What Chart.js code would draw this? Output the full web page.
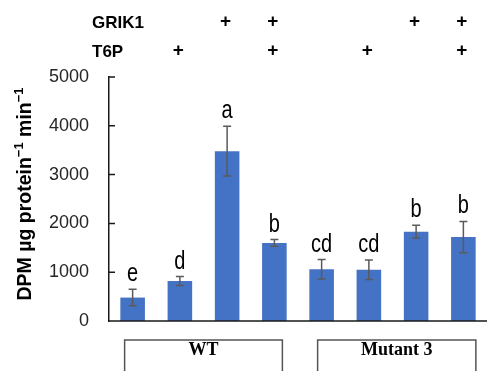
<!DOCTYPE html>
<html>
<head>
<meta charset="utf-8">
<script src="https://cdn.jsdelivr.net/npm/chart.js@4.4.0/dist/chart.umd.min.js"></script>
<style>
  html, body { margin: 0; padding: 0; background: #fff; }
</style>
</head>
<body>
<canvas id="chart" width="487" height="371"></canvas>
<script>
// data
const samples = ['WT', 'WT T6P', 'WT GRIK1', 'WT GRIK1 T6P', 'M3', 'M3 T6P', 'M3 GRIK1', 'M3 GRIK1 T6P'];
const dpm = [480, 820, 3480, 1600, 1060, 1050, 1830, 1720];
const dpmErr = [170, 90, 510, 70, 200, 200, 130, 320];
const letters = ['e', 'd', 'a', 'b', 'cd', 'cd', 'b', 'b'];
const grik1 = [false, false, true, true, false, false, true, true];
const t6p = [false, true, false, true, false, true, false, true];
const groups = [
  { name: 'WT', from: 0, to: 3 },
  { name: 'Mutant 3', from: 4, to: 7 }
];
const yTicks = [0, 1000, 2000, 3000, 4000, 5000];

const sans = '"Liberation Sans", Arial, sans-serif';
const serif = '"Liberation Serif", "Times New Roman", serif';

// error bars, letters, +/- rows, group boxes, axis title
const overlay = {
  id: 'overlay',
  afterDraw(chart) {
    const { ctx, chartArea, scales: { x, y } } = chart;
    const bars = chart.getDatasetMeta(0).data;
    ctx.save();

    // x axis line + inward ticks on y
    ctx.strokeStyle = '#1a1a1a';
    ctx.lineWidth = 1.5;
    ctx.beginPath();
    ctx.moveTo(chartArea.left, chartArea.bottom);
    ctx.lineTo(chartArea.right, chartArea.bottom);
    yTicks.forEach(v => {
      const py = y.getPixelForValue(v);
      ctx.moveTo(chartArea.left, py);
      ctx.lineTo(chartArea.left + 6, py);
    });
    ctx.stroke();

    // error bars
    ctx.strokeStyle = '#5a5a5a';
    ctx.lineWidth = 1.5;
    bars.forEach((bar, i) => {
      const hi = y.getPixelForValue(dpm[i] + dpmErr[i]);
      const lo = y.getPixelForValue(dpm[i] - dpmErr[i]);
      ctx.beginPath();
      ctx.moveTo(bar.x, hi); ctx.lineTo(bar.x, lo);
      ctx.moveTo(bar.x - 4, hi); ctx.lineTo(bar.x + 4, hi);
      ctx.moveTo(bar.x - 4, lo); ctx.lineTo(bar.x + 4, lo);
      ctx.stroke();
    });

    // significance letters (the original text is stretched vertically)
    ctx.fillStyle = '#000';
    ctx.font = '20px ' + sans;
    ctx.textAlign = 'center';
    ctx.textBaseline = 'alphabetic';
    bars.forEach((bar, i) => {
      const hi = y.getPixelForValue(dpm[i] + dpmErr[i]);
      ctx.save();
      ctx.translate(bar.x, hi - 8);
      ctx.scale(1, 1.25);
      ctx.fillText(letters[i], 0, 0);
      ctx.restore();
    });

    // treatment rows
    ctx.font = 'bold 17px ' + sans;
    ctx.textAlign = 'left';
    ctx.textBaseline = 'middle';
    ctx.fillText('GRIK1', 92, 23);
    ctx.fillText('T6P', 92, 52);
    ctx.textAlign = 'center';
    ctx.font = 'bold 19px ' + sans;
    bars.forEach((bar, i) => {
      if (grik1[i]) ctx.fillText('+', bar.x - 1.5, 22);
      if (t6p[i]) ctx.fillText('+', bar.x - 1.5, 51);
    });

    // group boxes
    ctx.strokeStyle = '#555';
    ctx.lineWidth = 1.5;
    ctx.font = 'bold 18px ' + serif;
    const boxTop = 340;
    groups.forEach((g, k) => {
      const left = x.getPixelForValue(g.from) - (k === 0 ? 8 : 4);
      const right = x.getPixelForValue(g.to) + (k === 0 ? 8 : 12.5);
      ctx.beginPath();
      ctx.moveTo(left, chart.height + 2);
      ctx.lineTo(left, boxTop);
      ctx.lineTo(right, boxTop);
      ctx.lineTo(right, chart.height + 2);
      ctx.stroke();
      ctx.fillText(g.name, (left + right) / 2, 350);
    });

    // y axis title with superscripts
    ctx.translate(24, 194);
    ctx.rotate(-Math.PI / 2);
    const parts = [
      ['DPM \u00b5g protein', false],
      ['\u22121', true],
      [' min', false],
      ['\u22121', true]
    ];
    const big = 'bold 19.5px ' + sans, small = 'bold 13px ' + sans;
    let total = 0;
    parts.forEach(p => { ctx.font = p[1] ? small : big; total += ctx.measureText(p[0]).width; });
    let cx = -total / 2;
    ctx.textAlign = 'left';
    ctx.textBaseline = 'alphabetic';
    parts.forEach(p => {
      ctx.font = p[1] ? small : big;
      ctx.fillText(p[0], cx, p[1] ? -1 : 7);
      cx += ctx.measureText(p[0]).width;
    });
    ctx.restore();
  }
};

new Chart(document.getElementById('chart'), {
  type: 'bar',
  data: {
    labels: samples,
    datasets: [{
      data: dpm,
      backgroundColor: '#4472c4',
      categoryPercentage: 0.8,
      barPercentage: 0.65
    }]
  },
  options: {
    responsive: false,
    animation: false,
    layout: { padding: { top: 77, bottom: 50, left: 0, right: 0 } },
    plugins: { legend: { display: false }, tooltip: { enabled: false } },
    scales: {
      x: { display: false },
      y: {
        min: 0,
        max: 5000,
        afterFit(scale) { scale.width = 109; },
        afterBuildTicks(scale) { scale.ticks = yTicks.map(v => ({ value: v })); },
        grid: { display: false, drawTicks: false },
        border: { display: true, color: '#1a1a1a', width: 1.5 },
        ticks: {
          padding: 20,
          color: '#262626',
          font: { family: sans, size: 18 },
          callback: v => String(v)
        }
      }
    }
  },
  plugins: [overlay]
});
</script>
</body>
</html>
